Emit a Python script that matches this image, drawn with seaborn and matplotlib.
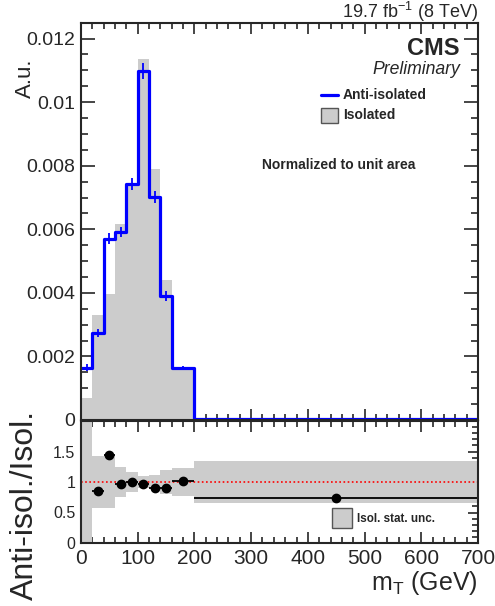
import numpy as np
import matplotlib
matplotlib.use("Agg")
import matplotlib.pyplot as plt
from matplotlib.ticker import MultipleLocator
from matplotlib.patches import Rectangle
from matplotlib.lines import Line2D
import seaborn as sns

# binning in mT (GeV)
edges = [0, 20, 40, 60, 80, 100, 120, 140, 160, 200, 700]

# normalized distributions (A.u.)
anti_iso = [0.00165, 0.00274, 0.00571, 0.00592, 0.00743, 0.01099, 0.00702, 0.00390, 0.00165, 0.00003]
anti_iso_err = [0.00010, 0.00012, 0.00016, 0.00016, 0.00018, 0.00025, 0.00020, 0.00015, 0.00005, 0.0]
isolated = [0.00068, 0.00330, 0.00396, 0.00616, 0.00743, 0.01136, 0.00791, 0.00440, 0.00162, 0.00004]

# ratio panel
ratio_x = [30, 50, 70, 90, 110, 130, 150, 180, 450]
ratio_xerr = [10, 10, 10, 10, 10, 10, 10, 20, 250]
ratio_y = [0.85, 1.45, 0.97, 1.00, 0.97, 0.90, 0.90, 1.02, 0.73]
band_lo = [0.0, 0.57, 0.57, 0.75, 0.84, 0.90, 0.88, 0.81, 0.77, 0.66]
band_hi = [2.2, 1.43, 1.43, 1.25, 1.16, 1.10, 1.12, 1.19, 1.23, 1.34]

sns.set_style("ticks")
plt.rcParams["font.family"] = ["Liberation Sans", "DejaVu Sans"]
plt.rcParams["mathtext.default"] = "regular"

grey = "#cccccc"
W, H = 495, 606
fig = plt.figure(figsize=(W / 100, H / 100), dpi=100)
ax = fig.add_axes([81 / W, 1 - 420 / H, 397 / W, 397.3 / H])
axr = fig.add_axes([81 / W, 1 - 543 / H, 397 / W, 122 / H])

edges_a = np.array(edges)
centers = (edges_a[:-1] + edges_a[1:]) / 2

sns.histplot(x=centers, weights=isolated, bins=edges, element="step", fill=True,
             color=grey, alpha=1, linewidth=0, ax=ax)
sns.histplot(x=centers, weights=anti_iso, bins=edges, element="step", fill=False,
             color="#0000ff", linewidth=2.3, ax=ax)
ax.errorbar(centers[:-1], anti_iso[:-1], yerr=anti_iso_err[:-1], fmt="none",
            ecolor="#0000ff", elinewidth=1.3)

ax.set_xlim(0, 700)
ax.set_ylim(0, 0.0125)
ax.set_xlabel("")
ax.set_ylabel("")
ax.xaxis.set_major_locator(MultipleLocator(100))
ax.xaxis.set_minor_locator(MultipleLocator(20))
ax.yaxis.set_minor_locator(MultipleLocator(0.0005))
ax.set_yticks([0, 0.002, 0.004, 0.006, 0.008, 0.010, 0.012])
ax.set_yticklabels(["0", "0.002", "0.004", "0.006", "0.008", "0.01", "0.012"])
ax.tick_params(axis="x", labelbottom=False)

# ratio panel
for lo, hi, l, r in zip(band_lo, band_hi, edges[:-1], edges[1:]):
    axr.bar(l, hi - lo, bottom=lo, width=r - l, align="edge", color=grey, linewidth=0)
axr.axhline(1, color="#ff0000", linestyle=(0, (1, 1.5)), linewidth=1.2)
axr.errorbar(ratio_x, ratio_y, xerr=ratio_xerr, fmt="o", color="black",
             markersize=6, elinewidth=1.3, capsize=0)
axr.set_xlim(0, 700)
axr.set_ylim(0, 2)
axr.xaxis.set_major_locator(MultipleLocator(100))
axr.xaxis.set_minor_locator(MultipleLocator(20))
axr.yaxis.set_minor_locator(MultipleLocator(0.1))
axr.set_yticks([0, 0.5, 1, 1.5, 2])
axr.set_yticklabels(["0", "0.5", "1", "1.5", ""])

for a in (ax, axr):
    for s in a.spines.values():
        s.set_linewidth(1.5)
    a.tick_params(which="both", direction="in", top=True, right=True, width=1.2)
    a.tick_params(which="major", axis="y", length=10)
    a.tick_params(which="minor", axis="y", length=5)
    a.tick_params(which="major", axis="x", length=8)
    a.tick_params(which="minor", axis="x", length=4)
ax.tick_params(axis="y", labelsize=14, pad=4)
axr.tick_params(axis="y", labelsize=11.5, pad=4, length=7)
axr.tick_params(axis="y", which="minor", length=4)
axr.tick_params(axis="x", labelsize=15, pad=4)

# texts
fig.text(478 / W, 1 - 18 / H, r"19.7 fb$^{-1}$ (8 TeV)", ha="right", va="baseline", fontsize=13)
fig.text(460 / W, 1 - 55 / H, "CMS", ha="right", va="baseline", fontsize=17, fontweight="bold")
fig.text(460 / W, 1 - 74 / H, "Preliminary", ha="right", va="baseline", fontsize=12.7,
         style="italic")
fig.text(343 / W, 1 - 95 / H, "Anti-isolated", ha="left", va="center", fontsize=10, fontweight="bold")
fig.text(343 / W, 1 - 115 / H, "Isolated", ha="left", va="center", fontsize=10, fontweight="bold")
fig.add_artist(Line2D([321 / W, 338 / W], [1 - 95 / H, 1 - 95 / H], color="#0000ff", linewidth=2.3))
fig.add_artist(Rectangle((321 / W, 1 - 123 / H), 17 / W, 15 / H, facecolor=grey,
                         edgecolor="#555555", linewidth=1))
fig.text(339 / W, 1 - 165 / H, "Normalized to unit area", ha="center", va="center",
         fontsize=10, fontweight="bold")
fig.add_artist(Rectangle((332 / W, 1 - 528 / H), 20 / W, 20 / H, facecolor=grey,
                         edgecolor="#555555", linewidth=1))
fig.text(357 / W, 1 - 519 / H, "Isol. stat. unc.", ha="left", va="center", fontsize=8.4,
         fontweight="bold")

fig.text(25 / W, 1 - 58 / H, "A.u.", rotation=90, ha="center", va="top", fontsize=16)
fig.text(25 / W, 1 - 410 / H, "Anti-isol./Isol.", rotation=90, ha="center", va="top", fontsize=23)
fig.text(478 / W, 1 - 590 / H, r"m$_{T}$ (GeV)", ha="right", va="baseline", fontsize=18)

fig.savefig("out.png", dpi=100)
